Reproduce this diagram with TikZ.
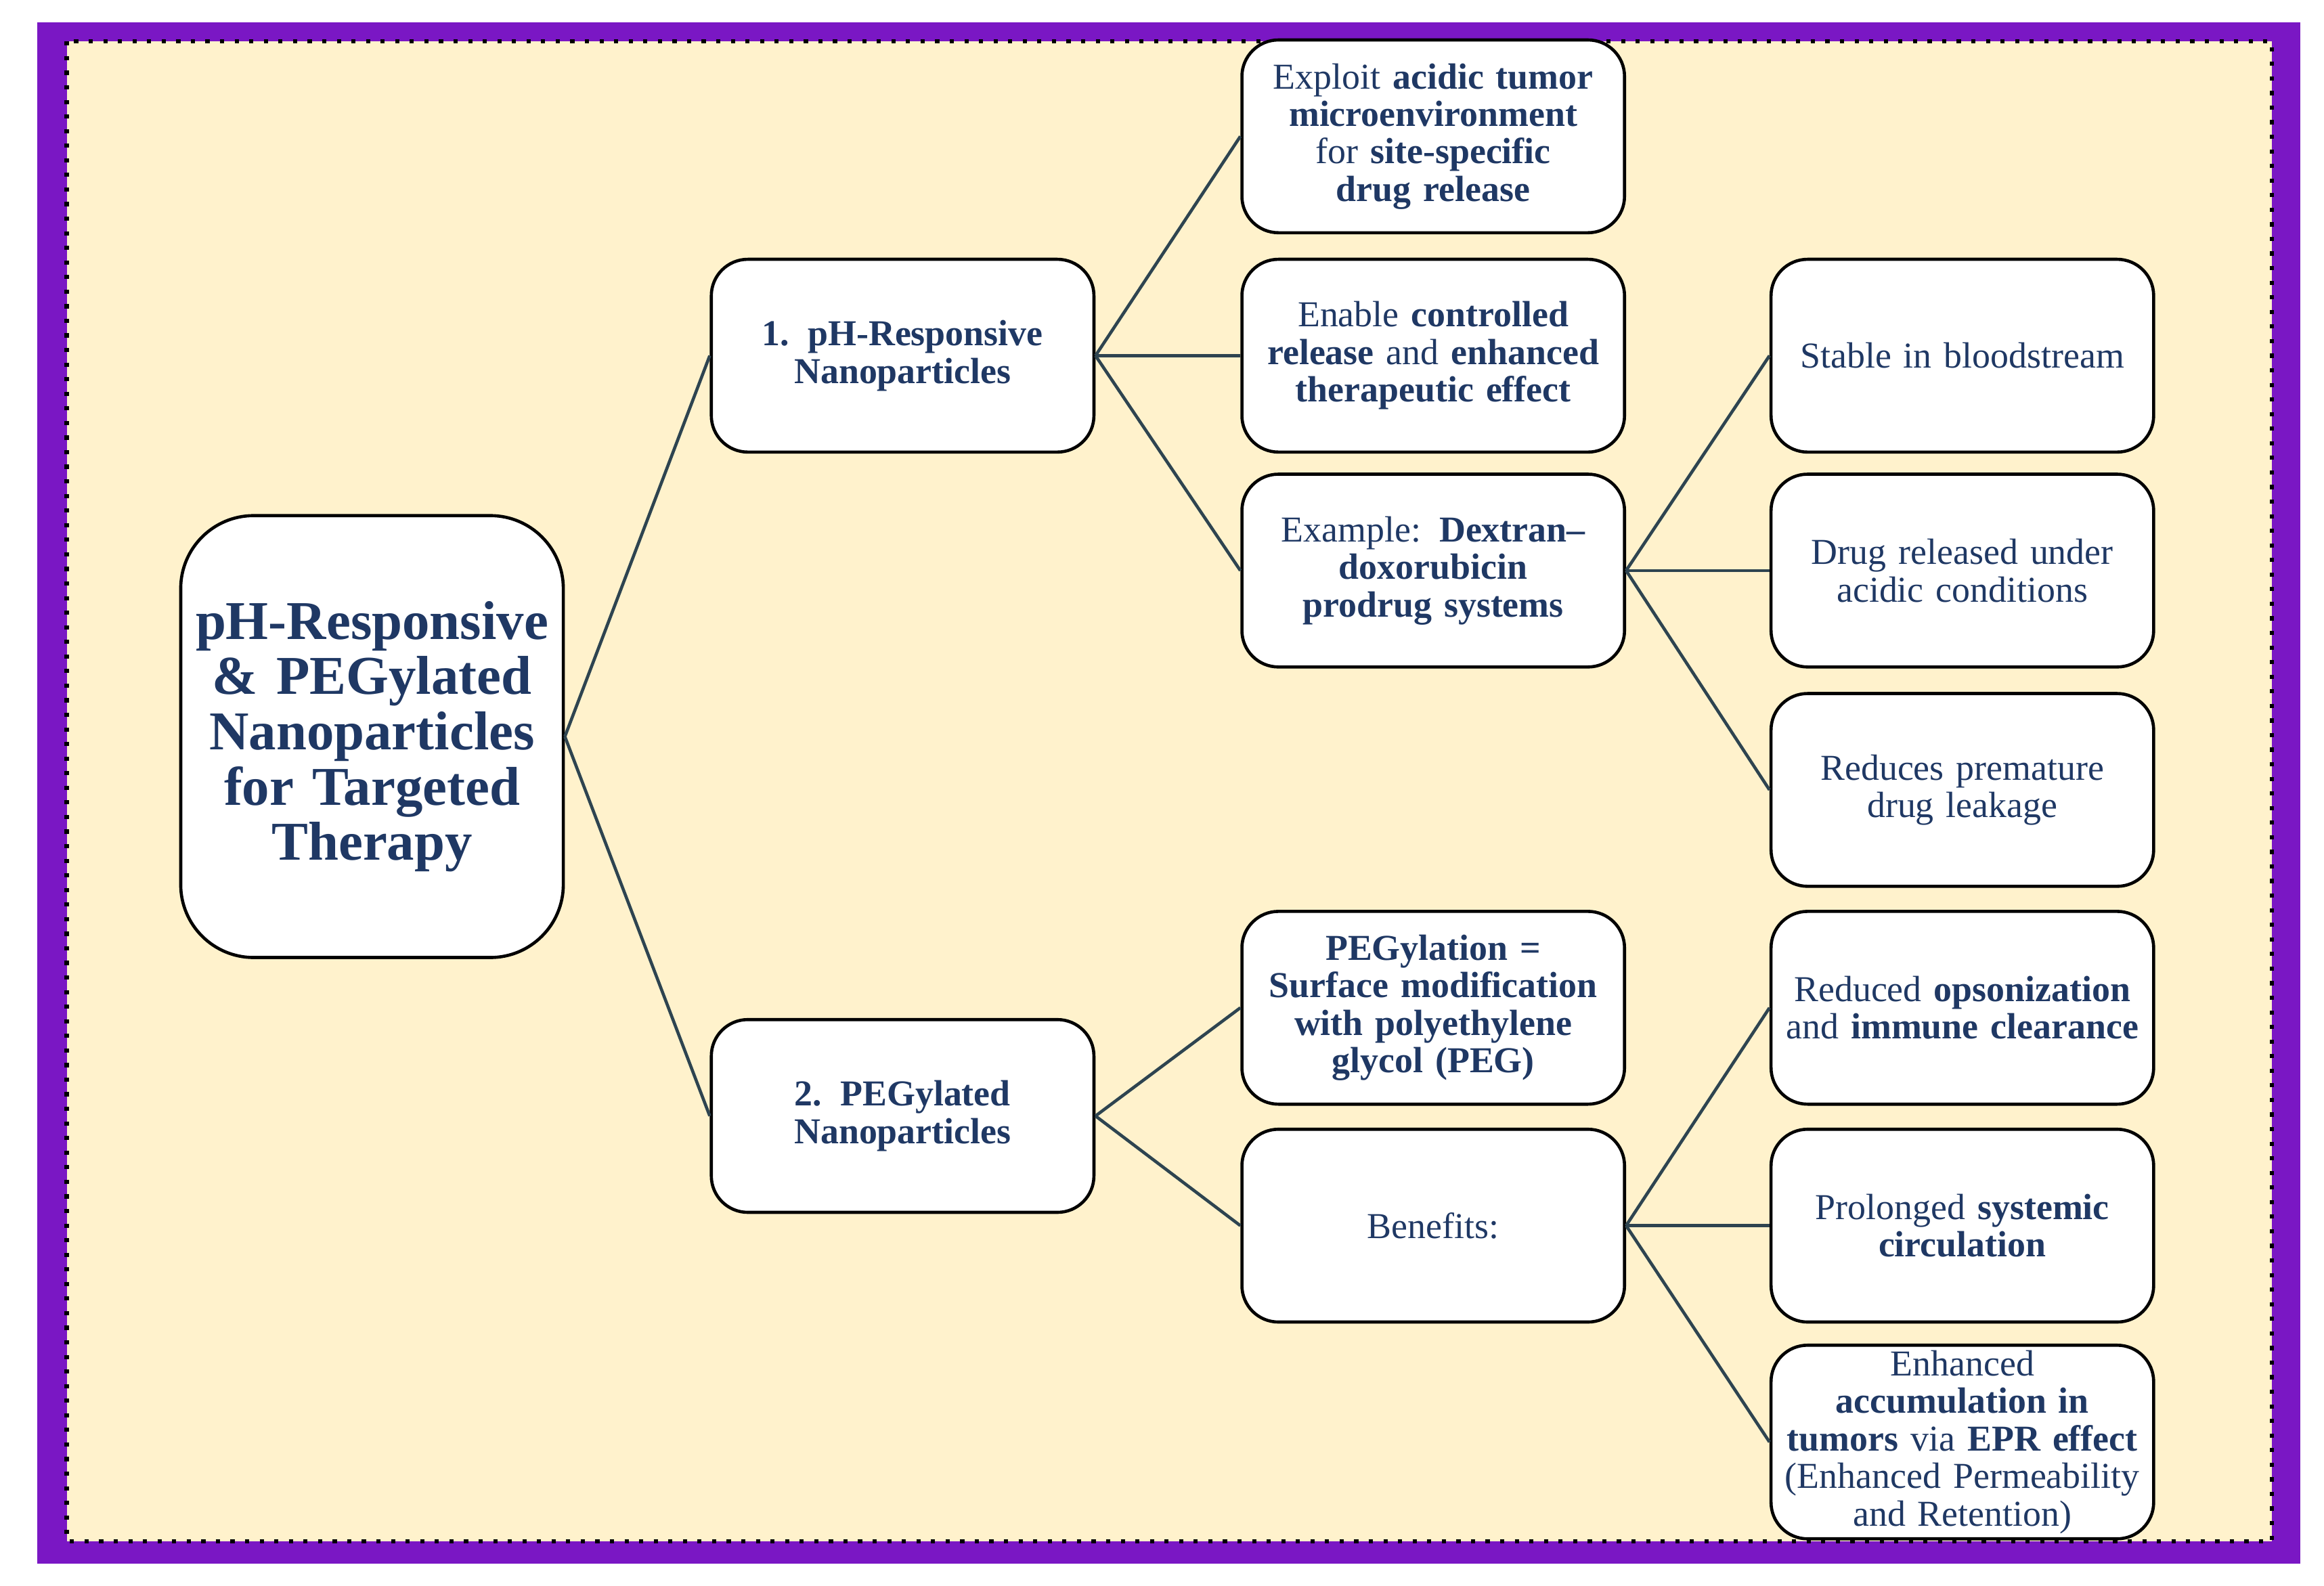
\documentclass[tikz,border=0pt]{standalone}
\usepackage{fontspec}
\setmainfont{Liberation Serif}
\usetikzlibrary{positioning}
\hyphenpenalty=10000
\definecolor{navy}{HTML}{1F3864}
\definecolor{cream}{HTML}{FFF2CC}
\definecolor{frame}{HTML}{7A17C4}
\definecolor{wire}{HTML}{2E4450}
\tikzset{
  box/.style={draw=black, fill=white, rounded corners=7pt, line width=0.6pt,
    minimum width=2.58cm, minimum height=1.3cm, text width=2.4cm, align=center,
    text=navy, font=\fontsize{7}{7.2}\selectfont, inner sep=1pt},
  boldbox/.style={box, font=\fontsize{7}{7.2}\selectfont\bfseries},
  rootbox/.style={box, rounded corners=14pt, minimum height=2.98cm, text width=2.45cm,
    font=\fontsize{10.5}{10.6}\selectfont\bfseries},
  link/.style={draw=wire, line width=0.6pt}
}
\begin{document}
\begin{tikzpicture}[x=0.01cm, y=-0.01cm]
  % frame and background
  \useasboundingbox (0,0) rectangle (1568,1070);
  \fill[frame] (25,15) rectangle (1552,1055);
  \draw[fill=cream, dotted, line width=0.8pt] (45,28) rectangle (1533,1040);

  % root and branches
  \node[rootbox] (root) at (251,497) {pH-Responsive \& PEGylated Nanoparticles for Targeted Therapy};
  \node[boldbox] (ph) at (609,240) {1. pH-Responsive\\ Nanoparticles};
  \node[boldbox] (peg) at (609,753) {2. PEGylated\\ Nanoparticles};

  % pH branch
  \node[box] (exploit) at (967,92) {Exploit \textbf{acidic tumor microenvironment} for \textbf{site-specific drug release}};
  \node[box] (enable) at (967,240) {Enable \textbf{controlled release} and \textbf{enhanced therapeutic effect}};
  \node[box] (example) at (967,385) {Example: \textbf{Dextran--\\doxorubicin prodrug systems}};
  \node[box] (stable) at (1324,240) {Stable in bloodstream};
  \node[box] (released) at (1324,385) {Drug released under\\ acidic conditions};
  \node[box] (leak) at (1324,533) {Reduces premature drug leakage};

  % PEG branch
  \node[boldbox] (surface) at (967,680) {PEGylation = Surface modification with polyethylene glycol (PEG)};
  \node[box] (benefits) at (967,827) {Benefits:};
  \node[box] (opson) at (1324,680) {Reduced \textbf{opsonization} and \textbf{immune clearance}};
  \node[box] (prolong) at (1324,827) {Prolonged \textbf{systemic circulation}};
  \node[box] (epr) at (1324,973) {Enhanced \textbf{accumulation in tumors} via \textbf{EPR effect} (Enhanced Permeability and Retention)};

  \draw[link] (root.east) -- (ph.west);
  \draw[link] (root.east) -- (peg.west);
  \foreach \n in {exploit, enable, example}
    \draw[link] (ph.east) -- (\n.west);
  \foreach \n in {stable, released, leak}
    \draw[link] (example.east) -- (\n.west);
  \foreach \n in {surface, benefits}
    \draw[link] (peg.east) -- (\n.west);
  \foreach \n in {opson, prolong, epr}
    \draw[link] (benefits.east) -- (\n.west);
\end{tikzpicture}
\end{document}
